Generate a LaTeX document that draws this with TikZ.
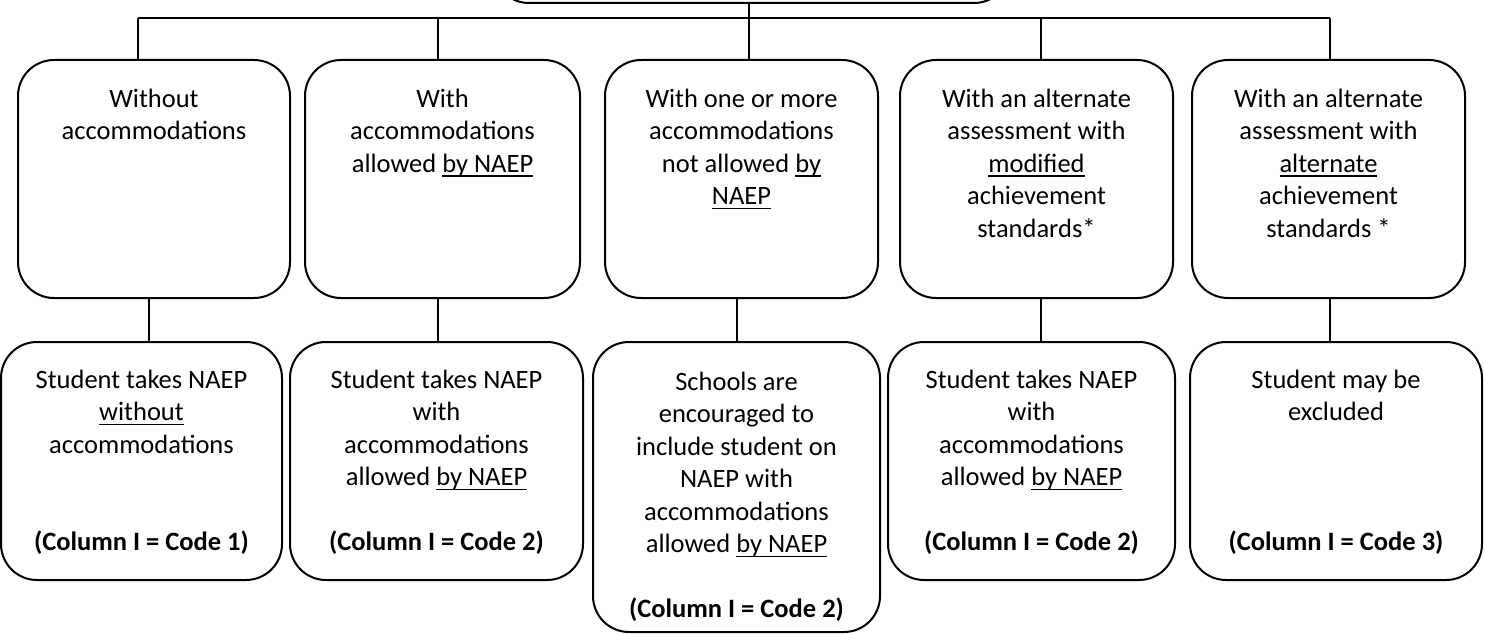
\documentclass[tikz,border=0pt]{standalone}
\usepackage{fontspec}
\setmainfont{Carlito}
\newcommand\undl[1]{\setbox0\hbox{#1}\rlap{\rule[-4.5pt]{\wd0}{1.6pt}}\box0}
\newcommand\fl{\rule{0pt}{24pt}}
\begin{document}
\begin{tikzpicture}[x=1pt,y=-1pt,
  box/.style={draw,line width=2pt,rounded corners=36pt,inner sep=0pt},
  lbl/.style={anchor=north,align=center,inner sep=0pt,font=\fontsize{26.5}{32.5}\selectfont},
  conn/.style={line width=1.6pt}]
\useasboundingbox[fill=white] (0,0) rectangle (1485,634);

% top (cut off) box
\node[box,minimum width=517pt,minimum height=63pt] (top) at (751.5,-28.5) {};

% first row
\node[box,minimum width=272pt,minimum height=238pt] (b1) at (154,179) {};
\node[box,minimum width=275pt,minimum height=238pt] (b2) at (442.5,179) {};
\node[box,minimum width=273pt,minimum height=238pt] (b3) at (741.5,179) {};
\node[box,minimum width=273pt,minimum height=238pt] (b4) at (1036.5,179) {};
\node[box,minimum width=273pt,minimum height=238pt] (b5) at (1328.5,179) {};

% second row
\node[box,minimum width=281pt,minimum height=238pt] (c1) at (141.5,461) {};
\node[box,minimum width=293pt,minimum height=238pt] (c2) at (436.5,461) {};
\node[box,minimum width=287pt,minimum height=290pt] (c3) at (736.5,487) {};
\node[box,minimum width=287pt,minimum height=238pt] (c4) at (1031.5,461) {};
\node[box,minimum width=292pt,minimum height=238pt] (c5) at (1336,461) {};

% connectors
\coordinate (h1) at (138,18);
\coordinate (h2) at (438,18);
\coordinate (h3) at (749,18);
\coordinate (h4) at (1041,18);
\coordinate (h5) at (1330,18);
\draw[conn] (top.south -| h3) -- (h3);
\draw[conn] (h1) -- (h5);
\draw[conn] (h1) -- (h1 |- b1.north);
\draw[conn] (h2) -- (h2 |- b2.north);
\draw[conn] (h3) -- (h3 |- b3.north);
\draw[conn] (h4) -- (h4 |- b4.north);
\draw[conn] (h5) -- (h5 |- b5.north);

\coordinate (v1) at (149,320);
\coordinate (v2) at (438,320);
\coordinate (v3) at (737,320);
\coordinate (v4) at (1041,320);
\coordinate (v5) at (1330,320);
\draw[conn] (b1.south -| v1) -- (c1.north -| v1);
\draw[conn] (b2.south -| v2) -- (c2.north -| v2);
\draw[conn] (b3.south -| v3) -- (c3.north -| v3);
\draw[conn] (b4.south -| v4) -- (c4.north -| v4);
\draw[conn] (b5.south -| v5) -- (c5.north -| v5);

% texts, first row
\node[lbl] (t1) at (154,83) {\fl Without\\accommodations};
\node[lbl] (t2) at (442.5,83) {\fl With\\accommodations\\allowed \undl{by NAEP}};
\node[lbl] (t3) at (741.5,83) {\fl With one or more\\accommodations\\not allowed \undl{by}\\\undl{NAEP}};
\node[lbl] (t4) at (1036.5,83) {\fl With an alternate\\assessment with\\\undl{modified}\\achievement\\standards*};
\node[lbl] (t5) at (1328.5,83) {\fl With an alternate\\assessment with\\\undl{alternate}\\achievement\\standards *};

% texts, second row
\node[lbl] (s1) at (141.5,364) {\fl Student takes NAEP\\\undl{without}\\accommodations\\[65pt]\textbf{(Column I = Code 1)}};
\node[lbl] (s2) at (436.5,364) {\fl Student takes NAEP\\with\\accommodations\\allowed \undl{by NAEP}\\[32.5pt]\textbf{(Column I = Code 2)}};
\node[lbl] (s3) at (736.5,366) {\fl Schools are\\encouraged to\\include student on\\NAEP with\\accommodations\\allowed \undl{by NAEP}\\[32.5pt]\textbf{(Column I = Code 2)}};
\node[lbl] (s4) at (1031.5,364) {\fl Student takes NAEP\\with\\accommodations\\allowed \undl{by NAEP}\\[32.5pt]\textbf{(Column I = Code 2)}};
\node[lbl] (s5) at (1336,364) {\fl Student may be\\excluded\\[97.5pt]\textbf{(Column I = Code 3)}};
\end{tikzpicture}
\end{document}
